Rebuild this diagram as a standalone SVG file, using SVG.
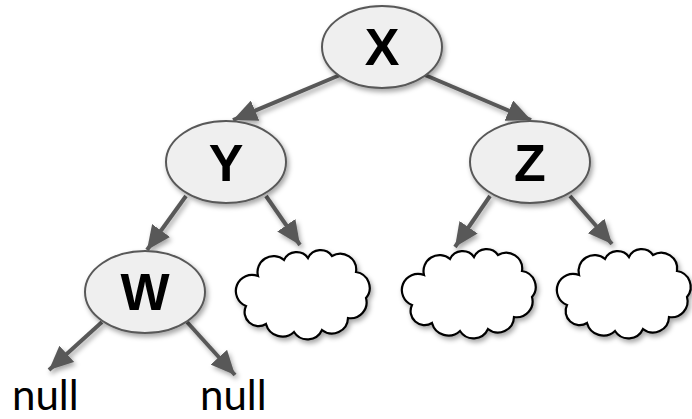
<svg xmlns="http://www.w3.org/2000/svg" width="692" height="419" viewBox="0 0 692 419">
  <defs>
    <filter id="shadow" x="-20%" y="-20%" width="150%" height="160%">
      <feDropShadow dx="2" dy="3" stdDeviation="2.5" flood-color="#000" flood-opacity="0.35"/>
    </filter>
    <marker id="arrow" markerUnits="userSpaceOnUse" markerWidth="26" markerHeight="22" refX="24" refY="11" orient="auto">
      <path d="M0,0 L24,11 L0,22 z" fill="#595959"/>
    </marker>
    <!-- cloud outline, local box about 134 x 90 -->
    <path id="cloud" d="M22,30 A16,16 0 0 1 48,14 A14,14 0 0 1 72,12 A14,14 0 0 1 96,10 A16,16 0 0 1 120,26 A16,16 0 0 1 130,52 A16,16 0 0 1 112,72 A16,16 0 0 1 86,84 A16,16 0 0 1 58,86 A17,17 0 0 1 30,78 A14,14 0 0 1 10,60 A12,12 0 0 1 22,30 z"/>
  </defs>
  <style>
    .node ellipse { fill: #efefef; stroke: #595959; stroke-width: 2; }
    .label { font-family: "Liberation Sans", Arial, sans-serif; font-weight: bold; font-size: 52px; fill: #000; text-anchor: middle; }
    .edge { stroke: #595959; stroke-width: 4; fill: none; marker-end: url(#arrow); }
    .cloud use { fill: #fff; stroke: #000; stroke-width: 2.2; }
    .null { font-family: Lato, "Open Sans", sans-serif; font-weight: 400; font-size: 42px; fill: #000; }
  </style>

  <g id="connectors" filter="url(#shadow)">
    <line class="edge" x1="340" y1="75" x2="233" y2="120"/>
    <line class="edge" x1="425" y1="75" x2="531" y2="120"/>
    <line class="edge" x1="186" y1="196" x2="147" y2="250"/>
    <line class="edge" x1="266" y1="196" x2="300" y2="245"/>
    <line class="edge" x1="490" y1="196" x2="455" y2="247"/>
    <line class="edge" x1="570" y1="196" x2="612" y2="244"/>
    <line class="edge" x1="102" y1="322" x2="49" y2="370"/>
    <line class="edge" x1="187" y1="322" x2="235" y2="375"/>
  </g>

  <g id="node-x" class="node">
    <ellipse cx="382" cy="47" rx="60" ry="41" filter="url(#shadow)"/>
    <text class="label" x="382" y="65">X</text>
  </g>
  <g id="node-y" class="node">
    <ellipse cx="226" cy="162" rx="60" ry="41" filter="url(#shadow)"/>
    <text class="label" x="226" y="181">Y</text>
  </g>
  <g id="node-z" class="node">
    <ellipse cx="530" cy="162" rx="60" ry="41" filter="url(#shadow)"/>
    <text class="label" x="530" y="181">Z</text>
  </g>
  <g id="node-w" class="node">
    <ellipse cx="145" cy="292" rx="60" ry="41" filter="url(#shadow)"/>
    <text class="label" x="145" y="310">W</text>
  </g>

  <g id="cloud-y-right" class="cloud" filter="url(#shadow)">
    <use href="#cloud" transform="translate(236,246)"/>
  </g>
  <g id="cloud-z-left" class="cloud" filter="url(#shadow)">
    <use href="#cloud" transform="translate(402,245)"/>
  </g>
  <g id="cloud-z-right" class="cloud" filter="url(#shadow)">
    <use href="#cloud" transform="translate(557,245)"/>
  </g>

  <g id="null-left">
    <text class="null" x="12" y="410">null</text>
  </g>
  <g id="null-right">
    <text class="null" x="200" y="410">null</text>
  </g>
</svg>
